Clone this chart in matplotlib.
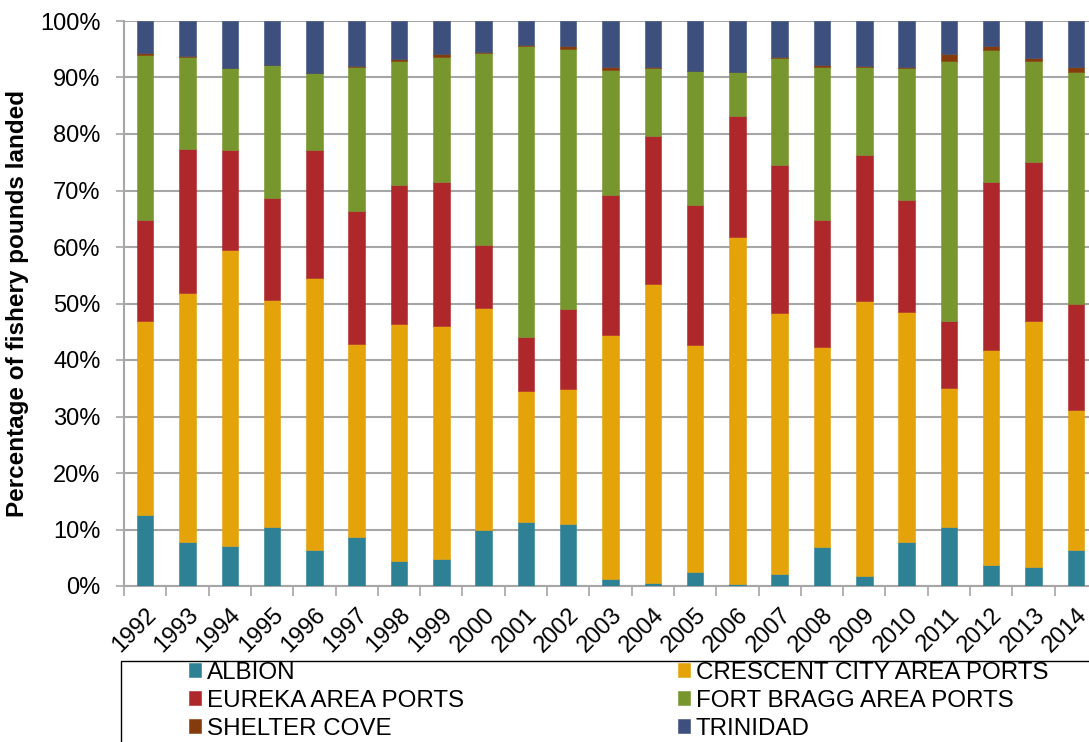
import numpy as np
import matplotlib
matplotlib.use("Agg")
import matplotlib.pyplot as plt
from matplotlib.patches import Rectangle

plt.rcParams["font.family"] = ["Liberation Sans", "DejaVu Sans"]

# ---- share of fishery pounds landed, by port area (percent) ----------------
years = [str(y) for y in range(1992, 2015)]
albion = [12.5, 7.8, 7.1, 10.5, 6.4, 8.7, 4.4, 4.7, 9.9, 11.4, 11.0, 1.2,
          0.5, 2.4, 0.3, 2.1, 6.9, 1.8, 7.8, 10.5, 3.7, 3.4, 6.4]
crescent = [34.4, 44.1, 52.3, 40.2, 48.2, 34.1, 41.9, 41.3, 39.3, 23.2, 23.9, 43.2,
            53.0, 40.2, 61.4, 46.2, 35.4, 48.6, 40.7, 24.5, 38.1, 43.5, 24.8]
eureka = [17.9, 25.5, 17.7, 18.0, 22.5, 23.6, 24.7, 25.5, 11.1, 9.4, 14.1, 24.8,
          26.2, 24.8, 21.4, 26.3, 22.5, 25.8, 19.8, 11.9, 29.7, 28.2, 18.7]
fort_bragg = [29.2, 16.3, 14.6, 23.5, 13.7, 25.5, 22.0, 22.2, 34.1, 51.6, 46.0, 22.2,
              12.0, 23.8, 7.9, 18.9, 27.1, 15.7, 23.3, 46.1, 23.4, 17.9, 41.1]
shelter_cove = [0.3, 0.1, 0.05, 0.0, 0.0, 0.2, 0.2, 0.4, 0.2, 0.2, 0.5, 0.5,
                0.2, 0.0, 0.0, 0.2, 0.4, 0.2, 0.3, 1.2, 0.7, 0.5, 0.9]
trinidad = [5.7, 6.2, 8.25, 7.8, 9.2, 7.9, 6.8, 5.9, 5.4, 4.2, 4.5, 8.1,
            8.1, 8.8, 9.0, 6.3, 7.7, 7.9, 8.1, 5.8, 4.4, 6.5, 8.1]

series = [
    ("ALBION", albion, "#2E8094"),
    ("CRESCENT CITY AREA PORTS", crescent, "#E3A309"),
    ("EUREKA AREA PORTS", eureka, "#AE272A"),
    ("FORT BRAGG AREA PORTS", fort_bragg, "#77962D"),
    ("SHELTER COVE", shelter_cove, "#843C0C"),
    ("TRINIDAD", trinidad, "#3D4F7D"),
]

W, H = 1089, 742
fig = plt.figure(figsize=(W / 100, H / 100), dpi=100)
ax = fig.add_axes([124 / W, 1 - 586 / H, (1097 - 124) / W, (586 - 21) / H])

x = np.arange(len(years))
bottom = np.zeros(len(years))
handles = []
for name, vals, col in series:
    v = np.array(vals, float)
    b = ax.bar(x, v, 0.39, bottom=bottom, color=col, label=name,
               edgecolor=col, linewidth=0.4, zorder=3)
    handles.append(b)
    bottom += v

ax.set_xlim(-0.5, len(years) - 0.5)
ax.set_ylim(0, 100)
ax.set_yticks(np.arange(0, 101, 10))
ax.set_yticklabels([f"{t}%" for t in range(0, 101, 10)], fontsize=17)
ax.yaxis.grid(True, color="#A6A6A6", linewidth=1.5, zorder=0)
ax.tick_params(axis="y", length=6, width=1.2, color="#A6A6A6", pad=11)

# category ticks sit between bars; year labels at bar centres
ax.set_xticks(np.arange(-0.5, len(years), 1.0))
ax.set_xticklabels([])
ax.set_xticks(x, minor=True)
ax.set_xticklabels(years, minor=True, rotation=45, ha="right",
                   rotation_mode="anchor", fontsize=17)
ax.tick_params(axis="x", which="major", length=7, width=1.2, color="#A6A6A6")
ax.tick_params(axis="x", which="minor", length=0, pad=13)

for s in ["top", "right"]:
    ax.spines[s].set_visible(False)
for s in ["left", "bottom"]:
    ax.spines[s].set_color("#A6A6A6")
    ax.spines[s].set_linewidth(1.5)

ax.set_ylabel("Percentage of fishery pounds landed", fontsize=17.5,
              fontweight="bold", labelpad=8)

# legend box runs off the right and bottom edges; entries fill row by row
fig.patches.append(Rectangle((121 / W, -0.05), 1.0, (1 - 661 / H) + 0.05,
                             transform=fig.transFigure, fill=False,
                             edgecolor="black", linewidth=1.0))
order = [0, 2, 4, 1, 3, 5]
fig.legend(handles=[handles[i] for i in order], loc="upper left", ncol=2,
           bbox_to_anchor=(167 / W, 1 - 640 / H), frameon=False,
           fontsize=17.4, handlelength=0.5, handleheight=0.5,
           handletextpad=0.25, columnspacing=8.85, labelspacing=0.25)

fig.savefig("out.png", dpi=100)
